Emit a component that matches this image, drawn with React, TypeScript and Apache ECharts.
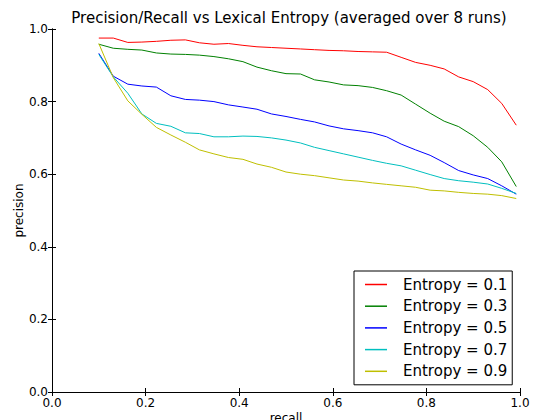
import React, { useEffect, useRef } from "react";
import * as echarts from "echarts";

const recall = [
  0.100, 0.131, 0.162, 0.192, 0.223, 0.254, 0.285, 0.315, 0.346, 0.377,
  0.408, 0.438, 0.469, 0.500, 0.531, 0.561, 0.592, 0.623, 0.654, 0.685,
  0.715, 0.746, 0.777, 0.808, 0.838, 0.869, 0.900, 0.931, 0.961, 0.992,
];

const entropy01 = [
  0.975, 0.975, 0.963, 0.964, 0.966, 0.969, 0.970, 0.962, 0.958, 0.960,
  0.955, 0.951, 0.949, 0.947, 0.945, 0.943, 0.941, 0.940, 0.938, 0.937,
  0.936, 0.922, 0.908, 0.900, 0.890, 0.868, 0.855, 0.833, 0.795, 0.735,
];
const entropy03 = [
  0.958, 0.947, 0.944, 0.942, 0.934, 0.931, 0.930, 0.928, 0.924, 0.918,
  0.910, 0.895, 0.885, 0.877, 0.876, 0.860, 0.854, 0.846, 0.844, 0.839,
  0.830, 0.818, 0.793, 0.768, 0.746, 0.731, 0.706, 0.674, 0.634, 0.566,
];
const entropy05 = [
  0.933, 0.870, 0.848, 0.843, 0.840, 0.816, 0.806, 0.804, 0.800, 0.791,
  0.785, 0.779, 0.766, 0.759, 0.751, 0.744, 0.733, 0.725, 0.720, 0.714,
  0.703, 0.683, 0.667, 0.652, 0.632, 0.610, 0.598, 0.588, 0.568, 0.545,
];
const entropy07 = [
  0.930, 0.868, 0.823, 0.766, 0.740, 0.732, 0.714, 0.712, 0.703, 0.703,
  0.705, 0.704, 0.700, 0.694, 0.686, 0.674, 0.665, 0.656, 0.647, 0.638,
  0.630, 0.623, 0.611, 0.599, 0.588, 0.582, 0.578, 0.573, 0.561, 0.547,
];
const entropy09 = [
  0.960, 0.866, 0.802, 0.765, 0.729, 0.708, 0.688, 0.667, 0.656, 0.646,
  0.641, 0.628, 0.619, 0.606, 0.600, 0.596, 0.590, 0.584, 0.581, 0.576,
  0.572, 0.568, 0.564, 0.556, 0.554, 0.550, 0.547, 0.545, 0.541, 0.533,
];

const seriesNames = [
  "Entropy = 0.1",
  "Entropy = 0.3",
  "Entropy = 0.5",
  "Entropy = 0.7",
  "Entropy = 0.9",
];
const seriesValues = [entropy01, entropy03, entropy05, entropy07, entropy09];
const seriesColors = ["#ff0000", "#008000", "#0000ff", "#00bfbf", "#bfbf00"];

const FONT = "DejaVu Sans";

export default function App() {
  const ref = useRef<HTMLDivElement>(null);

  useEffect(() => {
    if (!ref.current) return;
    const chart = echarts.init(ref.current, null, { renderer: "svg" });

    const tickLabel = (v: number) => v.toFixed(1);
    const baseAxis = {
      type: "value" as const,
      min: 0,
      max: 1,
      interval: 0.2,
      splitLine: { show: false },
      axisLine: { show: true, lineStyle: { color: "#000", width: 1 } },
      axisTick: { show: true, inside: true, length: 4, lineStyle: { color: "#000" } },
    };

    chart.setOption({
      animation: false,
      backgroundColor: "#fff",
      title: {
        text: "Precision/Recall vs Lexical Entropy (averaged over 8 runs)",
        left: 284,
        textAlign: "center",
        top: 5,
        textStyle: { fontFamily: FONT, fontSize: 15, fontWeight: "normal", color: "#000" },
      },
      grid: {
        left: 52,
        right: 13,
        top: 29,
        bottom: 28,
        containLabel: false,
        outerBoundsMode: "none",
      },
      xAxis: [
        {
          ...baseAxis,
          position: "bottom",
          name: "recall",
          nameLocation: "middle",
          nameGap: 20,
          nameMoveOverlap: false,
          nameTextStyle: { fontFamily: FONT, fontSize: 12, color: "#000" },
          axisLabel: {
            show: true,
            fontFamily: FONT,
            fontSize: 12,
            color: "#000",
            margin: 5,
            formatter: tickLabel,
          },
        },
        {
          ...baseAxis,
          position: "top",
          axisLabel: { show: false },
        },
      ],
      yAxis: [
        {
          ...baseAxis,
          position: "left",
          name: "precision",
          nameLocation: "middle",
          nameGap: 27,
          nameMoveOverlap: false,
          nameTextStyle: { fontFamily: FONT, fontSize: 12, color: "#000" },
          axisLabel: {
            show: true,
            fontFamily: FONT,
            fontSize: 12,
            color: "#000",
            margin: 4,
            formatter: tickLabel,
          },
        },
        {
          ...baseAxis,
          position: "right",
          axisLabel: { show: false },
        },
      ],
      legend: {
        orient: "vertical",
        left: 354,
        top: 271,
        padding: [5, 5, 5, 11],
        icon: "rect",
        itemWidth: 22,
        itemHeight: 1.5,
        itemGap: 4.7,
        borderColor: "#000",
        borderWidth: 1,
        borderRadius: 0,
        backgroundColor: "#fff",
        data: seriesNames,
        textStyle: {
          fontFamily: FONT,
          fontSize: 15,
          lineHeight: 17,
          color: "#000",
          padding: [0, 0, 0, 11],
        },
      },
      series: seriesNames.map((name, i) => ({
        name,
        type: "line",
        xAxisIndex: 0,
        yAxisIndex: 0,
        symbol: "none",
        color: seriesColors[i],
        lineStyle: { width: 1, color: seriesColors[i] },
        data: recall.map((x, j) => [x, seriesValues[i][j]]),
      })),
    });

    return () => chart.dispose();
  }, []);

  return (
    <div
      ref={ref}
      style={{ position: "absolute", left: 0, top: 0, width: 533, height: 420 }}
    />
  );
}
